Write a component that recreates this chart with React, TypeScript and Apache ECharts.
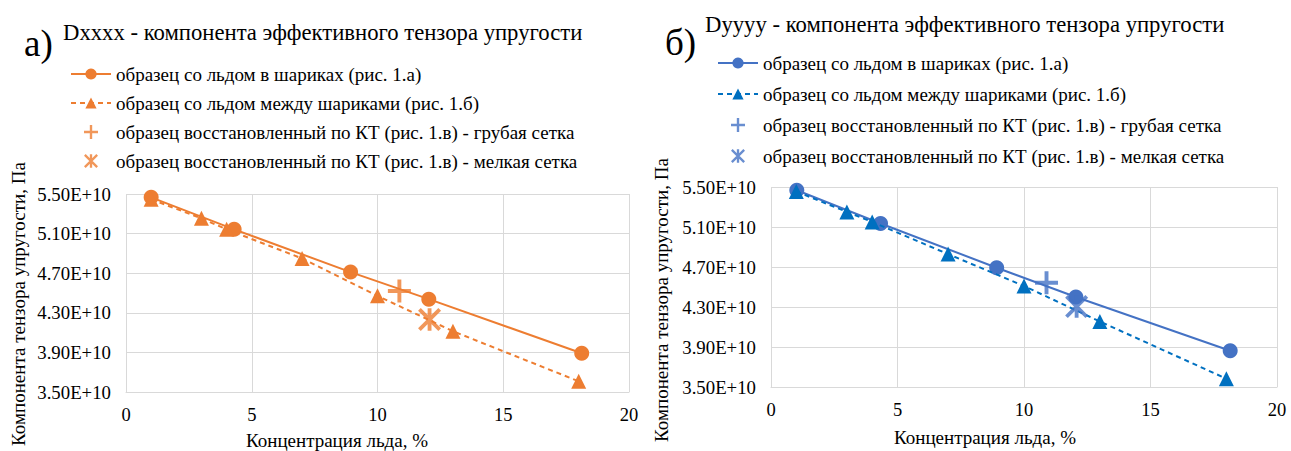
import React, { useEffect, useRef } from "react";
import * as echarts from "echarts";

// ---------- data ----------
const xTicks = [0, 5, 10, 15, 20];
const yTicks = [3.5e10, 3.9e10, 4.3e10, 4.7e10, 5.1e10, 5.5e10];

const seriesNames = [
  "образец со льдом в шариках (рис. 1.а)",
  "образец со льдом между шариками (рис. 1.б)",
  "образец восстановленный по КТ (рис. 1.в) - грубая сетка",
  "образец восстановленный по КТ (рис. 1.в) - мелкая сетка",
];

// Dxxxx
const xxBallsX = [1.0, 4.3, 8.93, 12.04, 18.12];
const xxBallsY = [5.466e10, 5.143e10, 4.711e10, 4.438e10, 3.891e10];
const xxBetweenX = [1, 3, 4, 7, 10, 13, 18];
const xxBetweenY = [5.446e10, 5.254e10, 5.143e10, 4.849e10, 4.471e10, 4.114e10, 3.608e10];
const xxCoarseX = [10.87];
const xxCoarseY = [4.52e10];
const xxFineX = [12.07];
const xxFineY = [4.232e10];

// Dyyyy
const yyBallsX = [1.02, 4.33, 8.92, 12.05, 18.15];
const yyBallsY = [5.467e10, 5.135e10, 4.693e10, 4.4e10, 3.862e10];
const yyBetweenX = [1, 3, 4, 7, 10, 13, 18];
const yyBetweenY = [5.455e10, 5.251e10, 5.151e10, 4.829e10, 4.51e10, 4.155e10, 3.583e10];
const yyCoarseX = [10.89];
const yyCoarseY = [4.543e10];
const yyFineX = [12.08];
const yyFineY = [4.304e10];

const titleXX = "Dxxxx - компонента эффективного тензора упругости";
const titleYY = "Dyyyy - компонента эффективного тензора упругости";
const xName = "Концентрация льда, %";
const yName = "Компонента тензора упругости, Па";

// ---------- styling ----------
const FONT = "Liberation Serif, Times New Roman, DejaVu Serif, serif";
const PLUS =
  "path://M8.3 0L11.7 0L11.7 8.3L20 8.3L20 11.7L11.7 11.7L11.7 20L8.3 20L8.3 11.7L0 11.7L0 8.3L8.3 8.3Z";
const STAR =
  "path://M8.3 0L11.7 0L11.7 20L8.3 20ZM2.2 -0.2L20.2 17.8L17.8 20.2L-0.2 2.2ZM20.2 2.2L2.2 20.2L-0.2 17.8L17.8 -0.2Z";

const zip = (xs: number[], ys: number[]) => xs.map((x, i) => [x, ys[i]]);

type Cfg = {
  title: string;
  letter: string;
  c1: string;
  c2: string;
  c3: string;
  ballsX: number[];
  ballsY: number[];
  betweenX: number[];
  betweenY: number[];
  coarseX: number[];
  coarseY: number[];
  fineX: number[];
  fineY: number[];
  grid: { left: number; top: number; width: number; height: number };
  titlePos: { left: number; top: number };
  letterPos: { x: number; y: number };
  legendPos: { left: number; top: number; gap: number };
  yNamePos: { x: number; y: number };
  xNamePos: { x: number; y: number };
  yMargin: number;
  xMargin: number;
};

function buildOption(c: Cfg): any {
  return {
    animation: false,
    backgroundColor: "#ffffff",
    textStyle: { fontFamily: FONT },
    title: {
      text: c.title,
      left: c.titlePos.left,
      top: c.titlePos.top,
      padding: 0,
      textStyle: { fontFamily: FONT, fontSize: 22.7, fontWeight: "normal", color: "#000", lineHeight: 26 },
    },
    legend: {
      orient: "vertical",
      left: c.legendPos.left,
      top: c.legendPos.top,
      padding: 0,
      itemGap: c.legendPos.gap,
      itemWidth: 40,
      itemHeight: 14,
      data: seriesNames,
      textStyle: { fontFamily: FONT, fontSize: 19, color: "#000", lineHeight: 20 },
    },
    graphic: [
      {
        type: "text",
        left: c.letterPos.x,
        top: c.letterPos.y - 21,
        style: { text: c.letter, fontFamily: FONT, fontSize: 37, fill: "#000" },
      },
      {
        type: "text",
        x: c.yNamePos.x,
        y: c.yNamePos.y,
        rotation: Math.PI / 2,
        style: { text: yName, fontFamily: FONT, fontSize: 19, fill: "#000", align: "center", verticalAlign: "middle" },
      },
      {
        type: "text",
        x: c.xNamePos.x,
        y: c.xNamePos.y,
        style: { text: xName, fontFamily: FONT, fontSize: 19, fill: "#000", align: "center", verticalAlign: "middle" },
      },
    ],
    grid: { ...c.grid, containLabel: false },
    xAxis: {
      type: "value",
      min: xTicks[0],
      max: xTicks[xTicks.length - 1],
      interval: xTicks[1] - xTicks[0],
      axisLine: { show: true, lineStyle: { color: "#d9d9d9" } },
      axisTick: { show: false },
      splitLine: { show: true, lineStyle: { color: "#d9d9d9", width: 1 } },
      axisLabel: { fontFamily: FONT, fontSize: 18.5, color: "#000", margin: c.xMargin },
    },
    yAxis: {
      type: "value",
      min: yTicks[0],
      max: yTicks[yTicks.length - 1],
      interval: yTicks[1] - yTicks[0],
      axisLine: { show: false },
      axisTick: { show: false },
      splitLine: { show: true, lineStyle: { color: "#d9d9d9", width: 1 } },
      axisLabel: {
        fontFamily: FONT,
        fontSize: 18.8,
        color: "#000",
        margin: c.yMargin,
        formatter: (v: number) => (v / 1e10).toFixed(2) + "E+10",
      },
    },
    series: [
      {
        name: seriesNames[0],
        type: "line",
        data: zip(c.ballsX, c.ballsY),
        symbol: "circle",
        symbolSize: 15,
        lineStyle: { color: c.c1, width: 2 },
        itemStyle: { color: c.c1 },
        z: 2,
      },
      {
        name: seriesNames[1],
        type: "line",
        data: zip(c.betweenX, c.betweenY),
        symbol: "triangle",
        symbolSize: 15,
        lineStyle: { color: c.c2, width: 2, type: [5, 4] },
        itemStyle: { color: c.c2 },
        z: 3,
      },
      {
        name: seriesNames[2],
        type: "scatter",
        data: zip(c.coarseX, c.coarseY),
        symbol: PLUS,
        symbolSize: 23,
        symbolKeepAspect: true,
        itemStyle: { color: c.c3 },
        z: 4,
      },
      {
        name: seriesNames[3],
        type: "scatter",
        data: zip(c.fineX, c.fineY),
        symbol: STAR,
        symbolSize: 23,
        symbolKeepAspect: true,
        itemStyle: { color: c.c3 },
        z: 5,
      },
    ],
  };
}

const cfgXX: Cfg = {
  title: titleXX,
  letter: "а)",
  c1: "#ED7D31",
  c2: "#ED7D31",
  c3: "#ED7D31",
  ballsX: xxBallsX,
  ballsY: xxBallsY,
  betweenX: xxBetweenX,
  betweenY: xxBetweenY,
  coarseX: xxCoarseX,
  coarseY: xxCoarseY,
  fineX: xxFineX,
  fineY: xxFineY,
  grid: { left: 126, top: 194, width: 503, height: 198 },
  titlePos: { left: 63, top: 19 },
  letterPos: { x: 24, y: 46 },
  legendPos: { left: 70, top: 64, gap: 9 },
  yNamePos: { x: 18, y: 304 },
  xNamePos: { x: 337, y: 440 },
  yMargin: 15,
  xMargin: 13,
};

const cfgYY: Cfg = {
  title: titleYY,
  letter: "б)",
  c1: "#4472C4",
  c2: "#0070C0",
  c3: "#4472C4",
  ballsX: yyBallsX,
  ballsY: yyBallsY,
  betweenX: yyBetweenX,
  betweenY: yyBetweenY,
  coarseX: yyCoarseX,
  coarseY: yyCoarseY,
  fineX: yyFineX,
  fineY: yyFineY,
  grid: { left: 126, top: 187, width: 506, height: 200 },
  titlePos: { left: 60, top: 11 },
  letterPos: { x: 20, y: 45 },
  legendPos: { left: 72, top: 53, gap: 11 },
  yNamePos: { x: 16, y: 300 },
  xNamePos: { x: 340, y: 437 },
  yMargin: 15,
  xMargin: 13,
};

function Chart({ cfg, left, width }: { cfg: Cfg; left: number; width: number }) {
  const ref = useRef<HTMLDivElement>(null);
  useEffect(() => {
    if (!ref.current) return;
    const chart = echarts.init(ref.current, undefined, { renderer: "svg" });
    chart.setOption(buildOption(cfg));
    return () => chart.dispose();
  }, [cfg]);
  return (
    <div
      ref={ref}
      style={{ position: "absolute", left, top: 0, width, height: 451 }}
    />
  );
}

export default function App() {
  return (
    <div
      style={{
        position: "absolute",
        left: 0,
        top: 0,
        width: 1291,
        height: 451,
        background: "#ffffff",
        overflow: "hidden",
      }}
    >
      <Chart cfg={cfgXX} left={0} width={645} />
      <Chart cfg={cfgYY} left={645} width={646} />
    </div>
  );
}
